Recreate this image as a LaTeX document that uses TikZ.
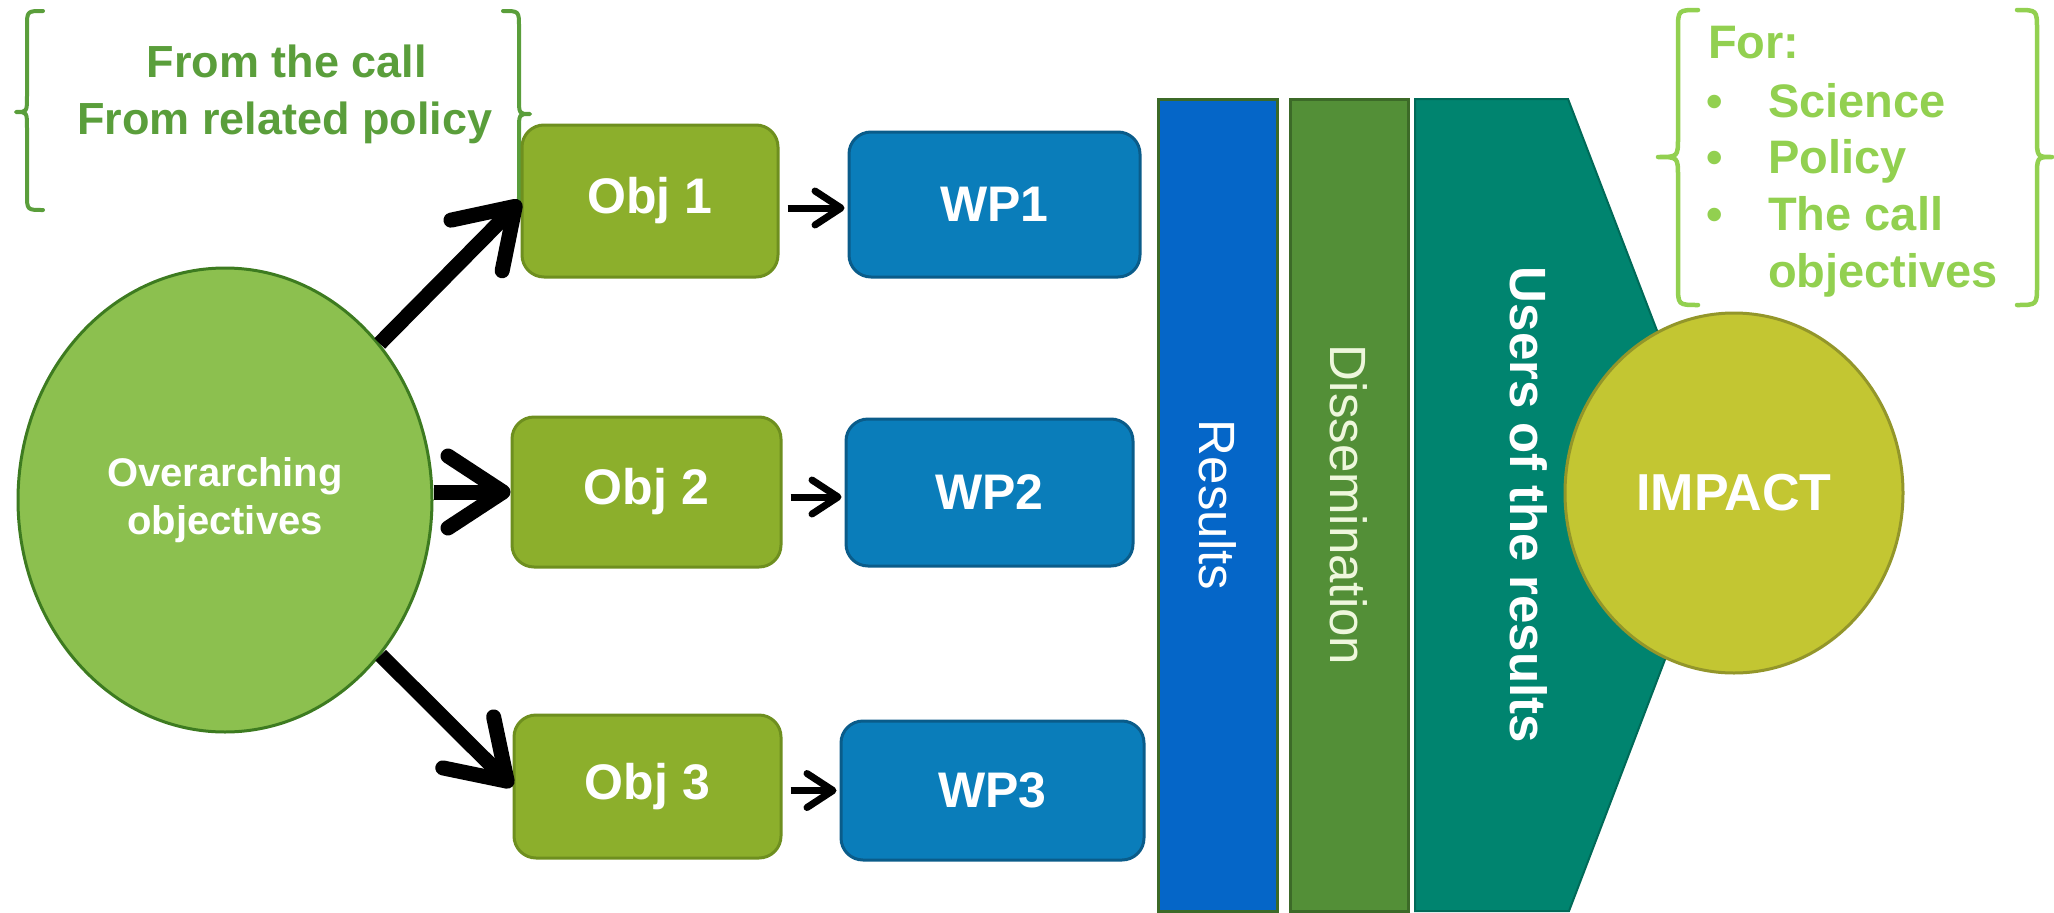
\documentclass[tikz,border=0pt]{standalone}
\usepackage{fontspec}
\setmainfont{Liberation Sans}
\usetikzlibrary{shapes.geometric,arrows.meta}
\definecolor{ovfill}{HTML}{8CC04F}
\definecolor{ovline}{HTML}{3D7B20}
\definecolor{objfill}{HTML}{8CAF2C}
\definecolor{objline}{HTML}{6E8F1F}
\definecolor{wpfill}{HTML}{0A7DBA}
\definecolor{wpline}{HTML}{0A5C8A}
\definecolor{resfill}{HTML}{0566C8}
\definecolor{disfill}{HTML}{538F37}
\definecolor{barline}{HTML}{3C6A28}
\definecolor{usrfill}{HTML}{00846F}
\definecolor{usrline}{HTML}{006A58}
\definecolor{impfill}{HTML}{C3C632}
\definecolor{impline}{HTML}{93962A}
\definecolor{fromgreen}{HTML}{5A9E3B}
\definecolor{forgreen}{HTML}{92D050}
\definecolor{paletext}{HTML}{EEF7DC}
\begin{document}
\begin{tikzpicture}[x=1pt,y=-1pt,
  objbox/.style={rectangle, rounded corners=22pt, fill=objfill, draw=objline, line width=3pt,
    text=white, font=\fontsize{50pt}{60pt}\selectfont\bfseries, inner sep=0pt},
  wpbox/.style={rectangle, rounded corners=22pt, fill=wpfill, draw=wpline, line width=3pt,
    text=white, font=\fontsize{50pt}{60pt}\selectfont\bfseries, inner sep=0pt},
  bar/.style={rectangle, draw=barline, line width=3pt, inner sep=0pt, rotate=-90,
    minimum width=812pt, font=\fontsize{51pt}{60pt}\selectfont},
  bigarrow/.style={line width=15pt, -{Straight Barb[length=55pt,width=72pt,round]}},
  smallarrow/.style={line width=7pt, -{Straight Barb[length=26pt,width=34pt,round]}},
  fromtext/.style={anchor=base, inner sep=0pt, text=fromgreen, font=\fontsize{45pt}{56pt}\selectfont\bfseries},
  fortext/.style={anchor=base west, inner sep=0pt, text=forgreen, font=\fontsize{47pt}{57pt}\selectfont\bfseries},
  frombrace/.style={draw=fromgreen, line width=4pt, line cap=round, line join=round},
  forbrace/.style={draw=forgreen, line width=4.5pt, line cap=round, line join=round}]
\useasboundingbox (0,0) rectangle (2054,913);

% top-left bracket and text
\draw[frombrace] (43,11) .. controls (27,11) .. (27,27) -- (27,96) .. controls (27,112) .. (16,112)
  .. controls (27,112) .. (27,128) -- (27,194) .. controls (27,210) .. (43,210);
\draw[frombrace] (503,11) .. controls (519,11) .. (519,27) -- (519,98) .. controls (519,114) .. (530,114)
  .. controls (519,114) .. (519,130) -- (519,194) .. controls (519,210) .. (503,210);
\node[fromtext] (fromA) at (287,77) {From the call};
\node[fromtext] (fromB) at (285,134) {From related policy};

% overarching objectives
\node[ellipse, fill=ovfill, draw=ovline, line width=3pt, minimum width=414pt, minimum height=464pt,
  inner sep=0pt, align=center, text=white, font=\fontsize{40pt}{48pt}\selectfont\bfseries]
  (ov) at (225,500) {Overarching\\objectives};

% objectives and work packages
\node[objbox, minimum width=256pt, minimum height=152pt] (obj1) at (650,201) {Obj 1};
\node[objbox, minimum width=269pt, minimum height=150pt] (obj2) at (646.5,492) {Obj 2};
\node[objbox, minimum width=267pt, minimum height=143pt] (obj3) at (647.5,786.5) {Obj 3};
\node[wpbox, minimum width=291pt, minimum height=145pt] (wp1) at (994.5,204.5) {WP1};
\node[wpbox, minimum width=287pt, minimum height=147pt] (wp2) at (989.5,492.5) {WP2};
\node[wpbox, minimum width=303pt, minimum height=139pt] (wp3) at (992.5,790.5) {WP3};

\draw[bigarrow] (ov) -- (obj1.west);
\draw[bigarrow] (ov.east |- obj2.west) -- (obj2.west);
\draw[bigarrow] (ov) -- (obj3.west);

\draw[smallarrow, shorten <=8pt, shorten >=3pt] ([yshift=-7pt]obj1.east) -- ([yshift=-7pt]obj1.east -| wp1.west);
\draw[smallarrow, shorten <=8pt, shorten >=3pt] ([yshift=-5pt]obj2.east) -- ([yshift=-5pt]obj2.east -| wp2.west);
\draw[smallarrow, shorten <=8pt, shorten >=3pt] ([yshift=-4pt]obj3.east) -- ([yshift=-4pt]obj3.east -| wp3.west);

% vertical bars
\node[bar, fill=resfill, minimum height=119pt, text=white] (results) at (1217.5,505) {Results};
\node[bar, fill=disfill, minimum height=118pt, text=paletext] (dissem) at (1349,505) {Dissemination};
\fill[usrfill, draw=usrline, line width=2pt] (1415,99) -- (1568,99) -- (1724,505) -- (1569,911) -- (1415,911) -- cycle;
\node[rotate=-90, inner sep=0pt, text=white, font=\fontsize{51pt}{60pt}\selectfont\bfseries]
  (users) at (1529,505) {Users of the results};

% impact
\node[ellipse, fill=impfill, draw=impline, line width=3pt, minimum width=338pt, minimum height=360pt,
  inner sep=0pt, text=white, font=\fontsize{52pt}{60pt}\selectfont\bfseries] (impact) at (1734,493) {IMPACT};

% top-right bracket and list
\draw[forbrace] (1698,10) .. controls (1678,10) .. (1678,30) -- (1678,137) .. controls (1678,157) .. (1658,157)
  .. controls (1678,157) .. (1678,177) -- (1678,285) .. controls (1678,305) .. (1698,305);
\draw[forbrace] (2017,10) .. controls (2037,10) .. (2037,30) -- (2037,137) .. controls (2037,157) .. (2052,157)
  .. controls (2037,157) .. (2037,177) -- (2037,285) .. controls (2037,305) .. (2017,305);
\node[fortext] (forA) at (1708,58) {For:};
\node[fortext] (bulA) at (1706,117) {•};
\node[fortext] (bulB) at (1706,173) {•};
\node[fortext] (bulC) at (1706,230) {•};
\node[fortext] (itA) at (1768,117) {Science};
\node[fortext] (itB) at (1768,173) {Policy};
\node[fortext] (itC) at (1768,230) {The call};
\node[fortext] (itD) at (1768,287) {objectives};
\end{tikzpicture}
\end{document}
